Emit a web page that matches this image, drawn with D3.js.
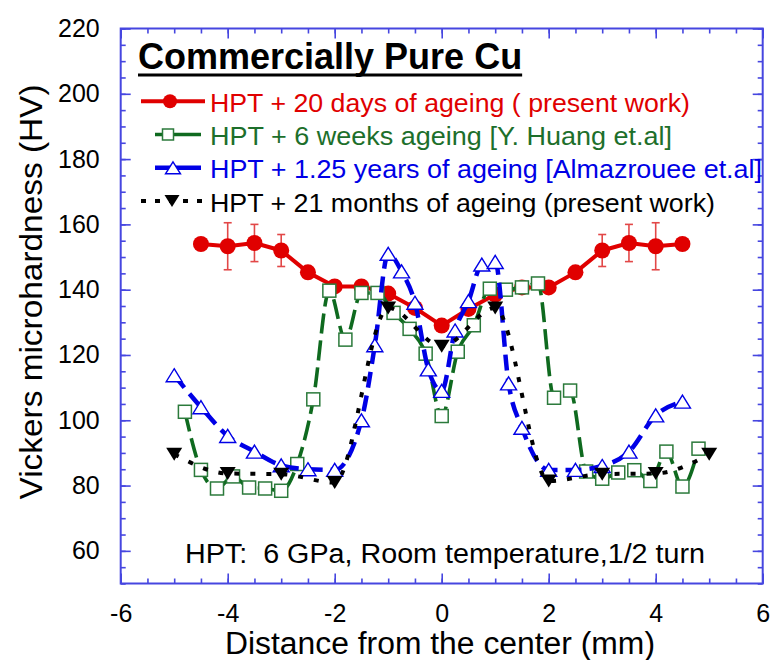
<!DOCTYPE html>
<html>
<head>
<meta charset="utf-8">
<script src="https://cdn.jsdelivr.net/npm/d3@7"></script>
<style>
  body { margin: 0; background: #fff; }
  svg text { font-family: "Liberation Sans", Arial, Helvetica, sans-serif; }
</style>
</head>
<body>
<svg id="chart" width="774" height="660"></svg>
<script>
// ---- data: Vickers microhardness across the HPT disc ----
// HPT + 20 days of ageing (present work)
const redX   = [-4.5, -4, -3.5, -3, -2.5, -2, -1.5, -1, -0.5, 0, 0.5, 1, 1.5, 2, 2.5, 3, 3.5, 4, 4.5];
const redY   = [154, 153.3, 154.3, 152, 145.3, 141, 141, 138.8, 134.4, 129, 134.1, 138.5, 140.7, 140.7, 145.3, 152, 154.3, 153.3, 154];
const redErr = [0, 7.2, 5.7, 4.9, 0, 0, 0, 0, 0, 0, 0, 0, 0, 0, 0, 4.9, 5.7, 7.2, 0];

// HPT + 6 weeks ageing [Y. Huang et.al]
const greenX = [-4.8, -4.5, -4.2, -3.9, -3.6, -3.3, -3.0, -2.7, -2.4, -2.1, -1.8, -1.5, -1.2, -0.9, -0.6, -0.3, 0,
                0.3, 0.6, 0.9, 1.2, 1.5, 1.8, 2.1, 2.4, 2.7, 3.0, 3.3, 3.6, 3.9, 4.2, 4.5, 4.8];
const greenY = [102.6, 84.8, 79.1, 82.8, 79.4, 79.1, 78.4, 86.6, 106.4, 139.7, 124.7, 139, 139, 132.9, 128, 120.4, 101.3,
                121, 129.1, 140.3, 140, 140.7, 141.9, 106.9, 109.1, 84.3, 82.1, 84, 84.7, 81.4, 90.4, 79.7, 91.3];

// HPT + 1.25 years of ageing [Almazrouee et.al]
const blueX = [-5, -4.5, -4, -3.5, -3, -2.5, -2, -1.5, -1.25, -1, -0.75, -0.5, -0.25, 0,
               0.25, 0.5, 0.75, 1, 1.25, 1.5, 2, 2.5, 3, 3.5, 4, 4.5];
const blueY = [113.8, 104, 95.2, 90.4, 86.2, 85, 84.8, 100, 123, 151, 145.6, 136, 115.6, 109,
               127.5, 136.5, 147.7, 148.5, 111.3, 97.7, 84.8, 84.8, 86, 90.4, 101.5, 105.7];

// HPT + 21 months of ageing (present work)
const blackX = [-5, -4, -3, -2, -1, 0, 1, 2, 3, 4, 5];
const blackY = [89.6, 83.7, 83.5, 80.9, 134.4, 122.7, 134.4, 81.4, 83.5, 83.7, 89.6];

const seriesNames = [
  "HPT + 20 days of ageing ( present work)",
  "HPT + 6 weeks ageing [Y. Huang et.al]",
  "HPT + 1.25 years of ageing [Almazrouee et.al]",
  "HPT + 21 months of ageing (present work)"
];

const xTicks = [-6, -4, -2, 0, 2, 4, 6];
const yTicks = [60, 80, 100, 120, 140, 160, 180, 200, 220];

const titleText = "Commercially Pure Cu";
const noteText = "HPT:  6 GPa, Room temperature,1/2 turn";
const xTitle = "Distance from the center (mm)";
const yTitle = "Vickers microhardness (HV)";

// ---- layout ----
const svg = d3.select("#chart");
const plotLeft = 120.7, plotRight = 762.7, plotTop = 28.5, plotBottom = 583.5;
const x = d3.scaleLinear().domain([-6, 6]).range([plotLeft, plotRight]);
const y = d3.scaleLinear().domain([50, 220]).range([plotBottom, plotTop]);

const frameColor = "#4646e0";
const tickFont = 25;

// ---- axes: inward ticks on all four sides ----
function styleAxis(g) {
  g.select(".domain").remove();
  g.selectAll(".tick line").attr("stroke", frameColor).attr("stroke-width", 1.6);
  g.selectAll(".tick text").attr("fill", "#000").style("font-size", tickFont + "px")
    .style("font-family", '"Liberation Sans", Arial, sans-serif');
}
const xMinor = d3.range(-6, 6.001, 0.5);
const yMinor = d3.range(50, 220.001, 5);

// bottom
svg.append("g").attr("transform", `translate(0,${plotBottom})`)
  .call(d3.axisBottom(x).tickValues(xMinor).tickSizeInner(-5).tickSizeOuter(0).tickFormat(""))
  .call(styleAxis);
svg.append("g").attr("transform", `translate(0,${plotBottom})`)
  .call(d3.axisBottom(x).tickValues(xTicks).tickSizeInner(-10).tickSizeOuter(0).tickPadding(21)
    .tickFormat(d => String(d)))
  .call(styleAxis);
// top
svg.append("g").attr("transform", `translate(0,${plotTop})`)
  .call(d3.axisTop(x).tickValues(xMinor).tickSizeInner(-5).tickSizeOuter(0).tickFormat(""))
  .call(styleAxis);
svg.append("g").attr("transform", `translate(0,${plotTop})`)
  .call(d3.axisTop(x).tickValues(xTicks).tickSizeInner(-10).tickSizeOuter(0).tickFormat(""))
  .call(styleAxis);
// left
svg.append("g").attr("transform", `translate(${plotLeft},0)`)
  .call(d3.axisLeft(y).tickValues(yMinor).tickSizeInner(-5).tickSizeOuter(0).tickFormat(""))
  .call(styleAxis);
svg.append("g").attr("transform", `translate(${plotLeft},0)`)
  .call(d3.axisLeft(y).tickValues(yTicks).tickSizeInner(-10).tickSizeOuter(0).tickPadding(21)
    .tickFormat(d => String(d)))
  .call(styleAxis);
// right
svg.append("g").attr("transform", `translate(${plotRight},0)`)
  .call(d3.axisRight(y).tickValues(yMinor).tickSizeInner(-5).tickSizeOuter(0).tickFormat(""))
  .call(styleAxis);
svg.append("g").attr("transform", `translate(${plotRight},0)`)
  .call(d3.axisRight(y).tickValues(yTicks).tickSizeInner(-10).tickSizeOuter(0).tickFormat(""))
  .call(styleAxis);

// frame
svg.append("rect")
  .attr("x", plotLeft).attr("y", plotTop)
  .attr("width", plotRight - plotLeft).attr("height", plotBottom - plotTop)
  .attr("fill", "none").attr("stroke", frameColor).attr("stroke-width", 2);

// ---- axis titles ----
svg.append("text")
  .attr("x", 440).attr("y", 654)
  .attr("text-anchor", "middle")
  .attr("textLength", 430).attr("lengthAdjust", "spacingAndGlyphs")
  .style("font-size", "31px")
  .text(xTitle);

svg.append("text")
  .attr("transform", "translate(42,292) rotate(-90)")
  .attr("text-anchor", "middle")
  .attr("textLength", 415).attr("lengthAdjust", "spacingAndGlyphs")
  .style("font-size", "32px")
  .text(yTitle);

// ---- series styles ----
const red = "#e00000", green = "#0f6a1f", greenMark = "#2b7a3b", blue = "#0000e6", black = "#000";

const zip = (xs, ys) => xs.map((v, i) => [v, ys[i]]);
const straight = d3.line().x(d => x(d[0])).y(d => y(d[1]));
const smooth = d3.line().x(d => x(d[0])).y(d => y(d[1])).curve(d3.curveMonotoneX);

function triPath(w, h, down) {
  const s = down ? -1 : 1;
  return `M0,${-s * h / 2}L${w / 2},${s * h / 2}L${-w / 2},${s * h / 2}Z`;
}

const plot = svg.append("g");

// red series: solid line, filled circles, error bars
const redPts = zip(redX, redY);
plot.append("path").datum(redPts)
  .attr("d", straight).attr("fill", "none").attr("stroke", red).attr("stroke-width", 4)
  .attr("stroke-linejoin", "round");
const errG = plot.append("g").attr("stroke", "#e24848").attr("stroke-width", 1.6);
redX.forEach((xv, i) => {
  const e = redErr[i];
  if (!e) return;
  const cx = x(xv), y1 = y(redY[i] - e), y2 = y(redY[i] + e);
  errG.append("line").attr("x1", cx).attr("x2", cx).attr("y1", y1).attr("y2", y2);
  errG.append("line").attr("x1", cx - 4).attr("x2", cx + 4).attr("y1", y1).attr("y2", y1);
  errG.append("line").attr("x1", cx - 4).attr("x2", cx + 4).attr("y1", y2).attr("y2", y2);
});
plot.append("g").selectAll("circle").data(redPts).join("circle")
  .attr("cx", d => x(d[0])).attr("cy", d => y(d[1])).attr("r", 8).attr("fill", red);

// green series: long-dash line, open squares
const greenPts = zip(greenX, greenY);
plot.append("path").datum(greenPts)
  .attr("d", smooth).attr("fill", "none").attr("stroke", green).attr("stroke-width", 3.6)
  .attr("stroke-dasharray", "20,7");
plot.append("g").selectAll("rect").data(greenPts).join("rect")
  .attr("x", d => x(d[0]) - 6.5).attr("y", d => y(d[1]) - 6.5)
  .attr("width", 13).attr("height", 13)
  .attr("fill", "#fff").attr("stroke", greenMark).attr("stroke-width", 1.5);

// blue series: dashed line, open up-triangles
const bluePts = zip(blueX, blueY);
plot.append("path").datum(bluePts)
  .attr("d", smooth).attr("fill", "none").attr("stroke", blue).attr("stroke-width", 4.5)
  .attr("stroke-dasharray", "16,8");
plot.append("g").selectAll("path").data(bluePts).join("path")
  .attr("transform", d => `translate(${x(d[0])},${y(d[1])})`)
  .attr("d", triPath(16, 13, false))
  .attr("fill", "#fff").attr("stroke", blue).attr("stroke-width", 1.4);

// black series: dotted line, filled down-triangles
const blackPts = zip(blackX, blackY);
plot.append("path").datum(blackPts)
  .attr("d", smooth).attr("fill", "none").attr("stroke", black).attr("stroke-width", 4)
  .attr("stroke-dasharray", "5,11");
plot.append("g").selectAll("path").data(blackPts).join("path")
  .attr("transform", d => `translate(${x(d[0])},${y(d[1])})`)
  .attr("d", triPath(16, 13, true))
  .attr("fill", black);

// ---- title ----
const title = svg.append("text")
  .attr("x", 138).attr("y", 68.5)
  .style("font-size", "36px").style("font-weight", "bold")
  .text(titleText);
const tw = title.node().getComputedTextLength();
svg.append("line")
  .attr("x1", 138).attr("x2", 138 + tw).attr("y1", 75).attr("y2", 75)
  .attr("stroke", "#000").attr("stroke-width", 3);

// ---- legend ----
const textColors = [red, "#1d6f2b", blue, black];
const textWidths = [480, 462, 552, 505];
const legend = svg.append("g");
seriesNames.forEach((name, i) => {
  const base = 111.7 + i * 33.3;
  const my = base - 10.5;
  const g = legend.append("g");
  if (i === 0) {
    g.append("line").attr("x1", 141).attr("x2", 205).attr("y1", my).attr("y2", my)
      .attr("stroke", red).attr("stroke-width", 4);
    g.append("circle").attr("cx", 170).attr("cy", my).attr("r", 7).attr("fill", red);
  } else if (i === 1) {
    g.append("line").attr("x1", 155).attr("x2", 201).attr("y1", my).attr("y2", my)
      .attr("stroke", green).attr("stroke-width", 3.6);
    g.append("rect").attr("x", 168 - 5.5).attr("y", my - 5.5).attr("width", 11).attr("height", 11)
      .attr("fill", "#fff").attr("stroke", greenMark).attr("stroke-width", 1.5);
  } else if (i === 2) {
    g.append("line").attr("x1", 155).attr("x2", 201).attr("y1", my).attr("y2", my)
      .attr("stroke", blue).attr("stroke-width", 4.5);
    g.append("path").attr("transform", `translate(173,${my})`).attr("d", triPath(15, 12, false))
      .attr("fill", "#fff").attr("stroke", blue).attr("stroke-width", 1.4);
  } else {
    g.append("line").attr("x1", 141).attr("x2", 205).attr("y1", my).attr("y2", my)
      .attr("stroke", black).attr("stroke-width", 4).attr("stroke-dasharray", "5,9");
    g.append("path").attr("transform", `translate(172,${my})`).attr("d", triPath(15, 12, true))
      .attr("fill", black);
  }
  g.append("text").attr("x", 210).attr("y", base)
    .attr("textLength", textWidths[i]).attr("lengthAdjust", "spacingAndGlyphs")
    .style("font-size", "26.7px").attr("fill", textColors[i])
    .text(name);
});

// ---- processing note ----
svg.append("text")
  .attr("x", 185).attr("y", 563)
  .attr("textLength", 520).attr("lengthAdjust", "spacingAndGlyphs")
  .style("font-size", "27px")
  .style("white-space", "pre")
  .text(noteText);
</script>
</body>
</html>
